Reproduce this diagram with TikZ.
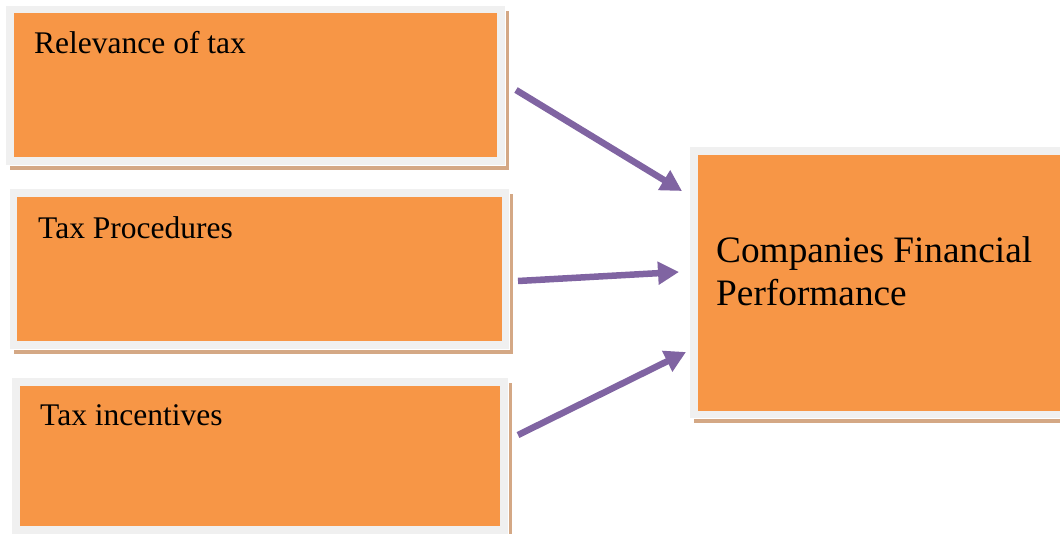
\documentclass[tikz,border=0pt]{standalone}
\usepackage{fontspec}
\setmainfont{Liberation Serif}
\usetikzlibrary{arrows.meta}
\definecolor{boxorange}{HTML}{F79646}
\definecolor{framegray}{HTML}{F0F0F0}
\definecolor{shadowtan}{HTML}{D4A885}
\definecolor{arrowpurple}{HTML}{8064A2}
\tikzset{
  framebox/.style={rectangle, inner sep=0pt, outer sep=0pt,
    fill=boxorange, draw=framegray, line width=7.5pt,
    preaction={draw=shadowtan, line width=7.5pt,
      transform canvas={shift={(4pt,-5pt)}}},
    preaction={draw=white, line width=9.5pt}},
  smalltext/.style={anchor=base west, inner sep=0pt,
    font=\fontsize{31.5pt}{36pt}\selectfont},
  bigtext/.style={anchor=base west, inner sep=0pt,
    font=\fontsize{37.3pt}{43pt}\selectfont},
  flow/.style={draw=arrowpurple, line width=6.5pt,
    -{Triangle[length=21pt,width=22pt]}}
}
\begin{document}
\begin{tikzpicture}[x=1pt,y=-1pt]
  \useasboundingbox (0,0) rectangle (1060,533);

  % input factors
  \node[framebox, minimum width=491pt, minimum height=151.5pt] (b1) at (255.5,85.25) {};
  \node[framebox, minimum width=492pt, minimum height=152pt] (b2) at (259.5,269) {};
  \node[framebox, minimum width=488pt, minimum height=148pt] (b3) at (260,455.75) {};
  % outcome
  \node[framebox, minimum width=381pt, minimum height=263.5pt] (r) at (884.5,282.75) {};

  \node[smalltext] (t1) at (34,53) {Relevance of tax};
  \node[smalltext] (t2) at (38,238) {Tax Procedures};
  \node[smalltext] (t3) at (40,425) {Tax incentives};
  \node[bigtext] (tr1) at (716,262) {Companies Financial};
  \node[bigtext] (tr2) at (716,305) {Performance};

  % arrow end points
  \coordinate (s1) at (516,90);
  \coordinate (e1) at (682,191);
  \coordinate (s2) at (518,281);
  \coordinate (e2) at (679,272);
  \coordinate (s3) at (518,435);
  \coordinate (e3) at (686,352);

  \draw[flow] (s1) -- (e1);
  \draw[flow] (s2) -- (e2);
  \draw[flow] (s3) -- (e3);
\end{tikzpicture}
\end{document}
